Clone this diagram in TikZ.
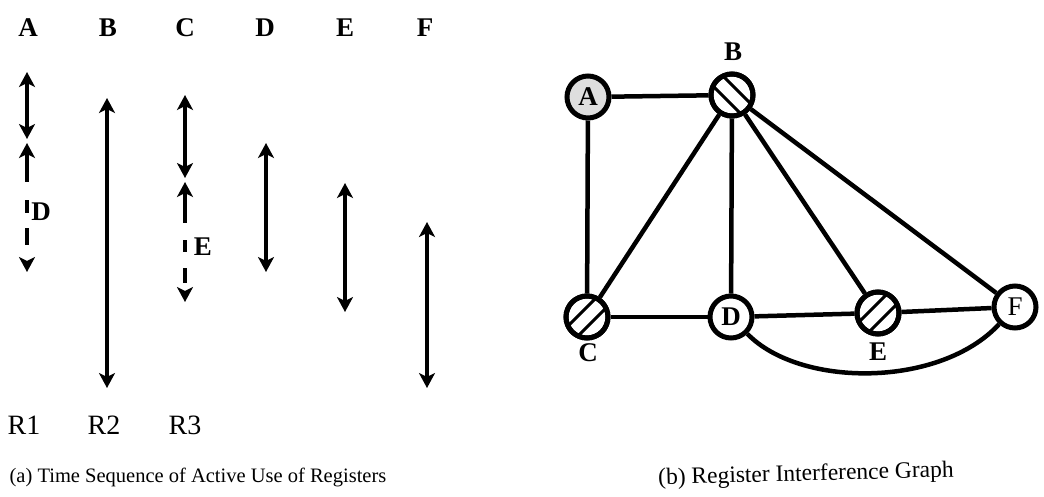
\documentclass[tikz,border=0pt]{standalone}
\usepackage{fontspec}
\setmainfont{Liberation Serif}
\usetikzlibrary{arrows.meta}
\begin{document}
\begin{tikzpicture}[x=1pt,y=-1pt,
  lbl/.style={font=\fontsize{27}{27}\selectfont\bfseries, inner sep=0pt},
  reglbl/.style={font=\fontsize{28}{28}\selectfont, inner sep=0pt},
  caption/.style={font=\fontsize{20.5}{20.5}\selectfont, inner sep=0pt},
  tip/.style={},
  life/.style={line width=4.5pt, {Stealth[length=15pt,width=16pt,inset=4pt]}-{Stealth[length=15pt,width=16pt,inset=4pt]}},
  gnode/.style={circle, draw, line width=5pt, minimum size=42pt, inner sep=0pt,
    font=\fontsize{27}{27}\selectfont\bfseries},
  edge/.style={line width=4.5pt},
  hatch/.style={line width=3pt}]
\useasboundingbox (0,0) rectangle (1044,496);

% ---------- (a) register lifetimes ----------
\foreach \n/\x in {A/28,B/108,C/185,D/265,E/345,F/425}
  \node[lbl] (top\n) at (\x,28) {\n};

% R1: A, then D
\draw[life] (27,72) -- (27,139);
\draw[life, dash pattern=on 29pt off 18pt on 13pt off 15pt on 17pt off 80pt] (27,143) -- (27,272);
\node[lbl] (labD) at (41,212) {D};
% R2: B
\draw[life] (107,98) -- (107,388);
% R3: C, then E
\draw[life] (185,95) -- (185,178);
\draw[life, dash pattern=on 31pt off 17pt on 12pt off 16pt on 15pt off 80pt] (185,182) -- (185,302);
\node[lbl] (labE) at (203,247) {E};
% D, E, F
\draw[life] (266,143) -- (266,272);
\draw[life] (345,183) -- (345,312);
\draw[life] (427,222) -- (427,388);

\node[reglbl] (R1) at (24,425) {R1};
\node[reglbl] (R2) at (104,425) {R2};
\node[reglbl] (R3) at (185,425) {R3};

\node[caption] (capa) at (198,477) {(a) Time Sequence of Active Use of Registers};

% ---------- (b) interference graph ----------
\node[gnode, fill=black!13] (A) at (588,97) {A};
\node[gnode] (B) at (732,95) {};
\node[gnode] (C) at (587,317) {};
\node[gnode] (D) at (731,317) {D};
\node[gnode] (E) at (878,313) {};
\node[gnode, font=\fontsize{27}{27}\selectfont] (F) at (1015,307) {F};

\node[lbl] (labB) at (733,52) {B};
\node[lbl] (labC) at (588,353) {C};
\node[lbl] (labE2) at (878,352) {E};

\draw[edge] (A) -- (B);
\draw[edge] (A) -- (C);
\draw[edge] (B) -- (C);
\draw[edge] (B) -- (D);
\draw[edge] (B) -- (E);
\draw[edge] (B) -- (F);
\draw[edge] (C) -- (D);
\draw[edge] (D) -- (E);
\draw[edge] (E) -- (F);
\draw[edge] (D) .. controls (800,388) and (940,388) .. (F);

% hatching inside the spilled nodes
\begin{scope}
  \clip (B) circle (21pt);
  \draw[hatch] ([shift={(-30,-20)}]B.center) -- ([shift={(20,30)}]B.center);
  \draw[hatch] ([shift={(-20,-30)}]B.center) -- ([shift={(30,20)}]B.center);
\end{scope}
\begin{scope}
  \clip (C) circle (21pt);
  \draw[hatch] ([shift={(-30,20)}]C.center) -- ([shift={(20,-30)}]C.center);
  \draw[hatch] ([shift={(-20,30)}]C.center) -- ([shift={(30,-20)}]C.center);
\end{scope}
\begin{scope}
  \clip (E) circle (21pt);
  \draw[hatch] ([shift={(-30,20)}]E.center) -- ([shift={(20,-30)}]E.center);
  \draw[hatch] ([shift={(-20,30)}]E.center) -- ([shift={(30,-20)}]E.center);
\end{scope}
\foreach \n in {B,C,E}
  \draw[line width=5pt] (\n) circle (21pt);

\node[caption, font=\fontsize{23.5}{23.5}\selectfont, rotate=1.5] (capb) at (806,475) {(b) Register Interference Graph};
\end{tikzpicture}
\end{document}
